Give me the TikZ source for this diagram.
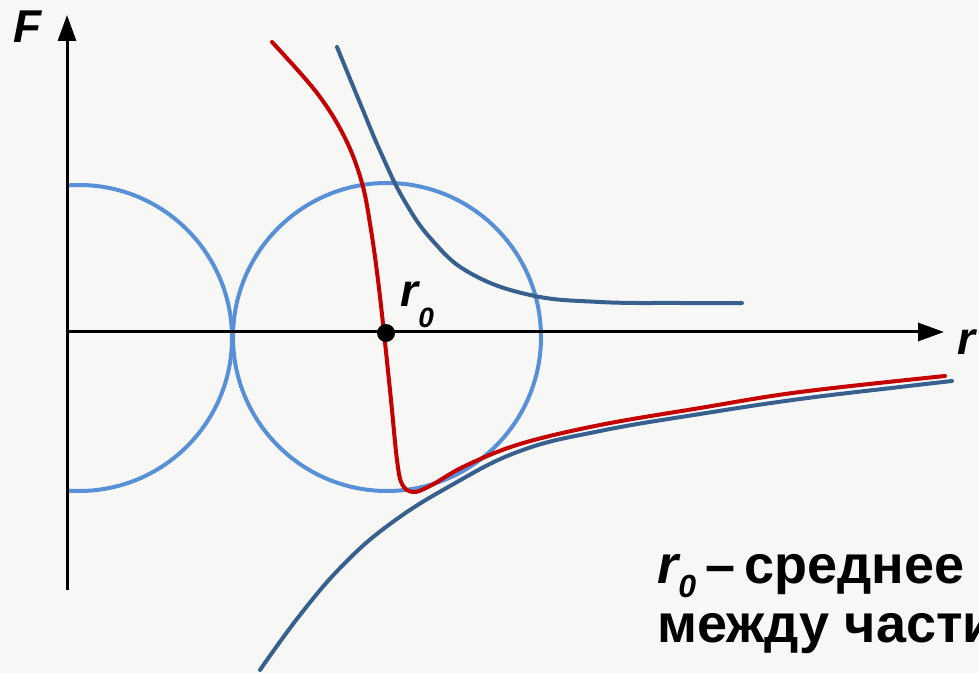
\documentclass[tikz,border=0pt]{standalone}
\usepackage{fontspec}
\setmainfont{Liberation Sans}
\usepackage{xcolor}
\usetikzlibrary{positioning,arrows.meta}
\definecolor{bgcol}{RGB}{247,247,245}
\definecolor{ringblue}{RGB}{88,144,216}
\definecolor{curveblue}{RGB}{56,96,142}
\definecolor{curvered}{RGB}{196,0,0}

\begin{document}
\begin{tikzpicture}[
  x=0.5pt, y=-0.5pt,
  axis/.style={line width=1.5pt, -{Triangle[length=13pt,width=9pt]}},
  ring/.style={draw=ringblue, line width=2pt},
  curve/.style={line width=2pt, line cap=round},
  dot/.style={circle, fill=black, inner sep=0pt, minimum size=9pt},
  lbl/.style={font=\fontsize{23}{23}\selectfont\bfseries\itshape, inner sep=0pt},
  note/.style={font=\fontsize{27}{29.5}\selectfont\bfseries, inner sep=0pt, align=left, anchor=base west}
]
  % page and margins
  \fill[bgcol] (0,0) rectangle (979,673);
  \useasboundingbox (0,0) rectangle (979,673);

  % axes
  \coordinate (O) at (67,332);
  \coordinate (ybot) at (67,590);
  \coordinate (ytop) at (67,15);
  \coordinate (xend) at (944,332);

  % particles (left one cut by the F axis)
  \begin{scope}
    \clip (67,0) rectangle (979,673);
    \draw[ring] (79,338) circle[radius=76.5pt];
  \end{scope}
  \draw[ring] (387,337) circle[radius=77pt];

  \draw[axis] (ybot) -- (ytop);
  \draw[axis] (O) -- (xend);

  % repulsion and attraction
  \draw[curve, curveblue] plot[smooth, tension=0.7] coordinates {
    (337,47) (360,103) (381,153) (404,200) (432,240) (470,273) (530,295)
    (600,302) (680,303) (742,303)};
  \draw[curve, curveblue] plot[smooth, tension=0.7] coordinates {
    (260,670) (300,615) (343,565) (390,524) (450,486) (520,451) (600,431)
    (700,414) (800,399) (900,387) (952,381)};
  % resulting force
  \draw[curve, curvered] plot[smooth, tension=0.6] coordinates {
    (272,42) (317,93) (345,138) (362,183) (371,230) (378,280) (384,333)
    (391,400) (397,460) (402,484) (413,492) (430,486) (465,466) (520,444)
    (600,425) (700,408) (800,392) (945,376)};

  % equilibrium point
  \node[dot] (r0) at (386,333) {};
  \node[lbl, anchor=base west] (r0lbl) at (400,307) {r\raisebox{-10pt}{\fontsize{14}{14}\selectfont 0}};

  % axis labels
  \node[lbl, anchor=base west] (Flbl) at (13,43) {F};
  \node[lbl, anchor=base west] (rlbl) at (957,355) {r};

  % caption (base = last line)
  \node[note] (cap) at (657,642) {\itshape r\raisebox{-7pt}{\fontsize{16}{16}\selectfont\bfseries\itshape 0}\upshape\,–\,среднее\\
    между части};
\end{tikzpicture}
\end{document}
